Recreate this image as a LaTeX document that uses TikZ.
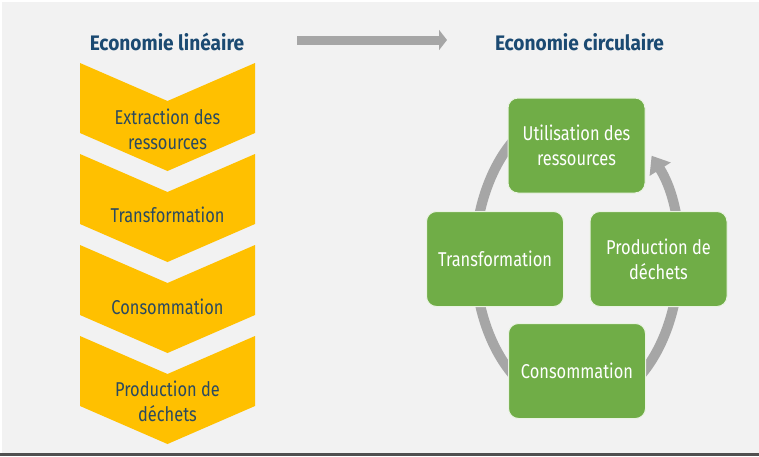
\documentclass[tikz,border=0pt]{standalone}
\usepackage{fontspec}
\setmainfont{Fira Sans}[FakeStretch=0.82]
\newfontfamily\titlefont{Fira Sans}[FakeStretch=0.91]
\usetikzlibrary{arrows.meta,calc}
\definecolor{bg}{HTML}{F2F2F2}
\definecolor{gold}{HTML}{FFC000}
\definecolor{leaf}{HTML}{70AD47}
\definecolor{ringgray}{HTML}{A6A6A6}
\definecolor{slate}{HTML}{2B4A60}
\definecolor{titleblue}{HTML}{1B4A72}
\definecolor{darkline}{HTML}{505050}
\tikzset{
  chevtext/.style={text=slate, align=center, font=\fontsize{20}{25}\selectfont},
  gbox/.style={fill=leaf, draw=white!85!leaf, line width=1pt, rounded corners=10pt,
    minimum width=137pt, minimum height=95pt, text=white, align=center,
    font=\fontsize{20}{25}\selectfont},
  titletext/.style={text=titleblue, font=\titlefont\fontsize{21}{25}\selectfont\bfseries},
  bigarrow/.style={draw=ringgray, line width=9pt, -{Triangle[length=8pt,width=20pt]}},
  ring/.style={draw=ringgray, line width=10pt, -{Triangle[length=16pt,width=24pt]}}
}
\begin{document}
\begin{tikzpicture}[x=1pt,y=1pt]
\useasboundingbox (0,0) rectangle (759,-456);
\fill[white] (0,0) rectangle (759,-456);
\fill[bg] (2,-2) rectangle (759,-453);
\fill[darkline] (0,-453) rectangle (759,-456);
% chevrons
\foreach \t in {63,154,245,336}{
  \fill[gold] (80,-\t) -- (167.5,-\t-38) -- (255,-\t) -- (255,-\t-70)
    -- (167.5,-\t-108) -- (80,-\t-70) -- cycle;
}
\node[chevtext] (c1) at (167.5,-129) {Extraction des\\ressources};
\node[chevtext] (c2) at (167.5,-215) {Transformation};
\node[chevtext] (c3) at (167.5,-307) {Consommation};
\node[chevtext] (c4) at (167.5,-401) {Production de\\déchets};
% titles
\node[titletext] (t1) at (167,-42) {Economie linéaire};
\node[titletext] (t2) at (579.5,-42) {Economie circulaire};
\draw[bigarrow] ($(t1.center)+(130,2)$) -- ($(t2.center)+(-132.5,2)$);
% cycle ring
\coordinate (ctr) at (577,-258);
\draw[ring] (ctr) ++(60:102 and 150) arc[start angle=60, end angle=403, x radius=102, y radius=150];
% green boxes
\node[gbox] (u) at (576.5,-145.5) {Utilisation des\\ressources};
\node[gbox] (tr) at (495,-259) {Transformation};
\node[gbox] (pd) at (658.5,-259) {Production de\\déchets};
\node[gbox] (co) at (577,-371) {Consommation};
\end{tikzpicture}
\end{document}
